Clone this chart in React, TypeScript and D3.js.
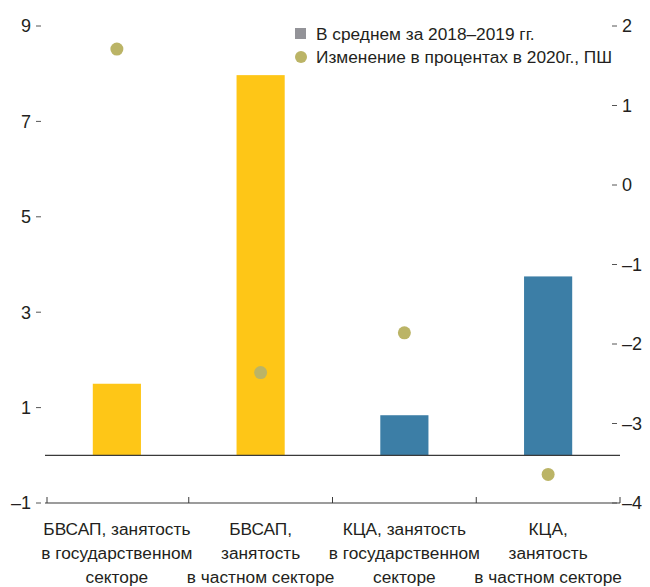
import React from "react";
import * as d3 from "d3";

const categories = [
  ["БВСАП, занятость", "в государственном", "секторе"],
  ["БВСАП,", "занятость", "в частном секторе"],
  ["КЦА, занятость", "в государственном", "секторе"],
  ["КЦА,", "занятость", "в частном секторе"],
];
const barValues = [1.5, 7.97, 0.84, 3.75];
const barColors = ["#FEC617", "#FEC617", "#3C7EA6", "#3C7EA6"];
const dotValues = [1.71, -2.36, -1.86, -3.64];
const leftTicks = [9, 7, 5, 3, 1, -1];
const rightTicks = [2, 1, 0, -1, -2, -3, -4];
const legendLabels = ["В среднем за 2018–2019 гг.", "Изменение в процентах в 2020г., ПШ"];

const W = 650, H = 587;
const FONT = "'Liberation Sans', Arial, sans-serif";
const fmt = (v: number) => (v < 0 ? "–" + Math.abs(v) : String(v));

export default function App() {
  const x = d3.scaleBand<number>().domain(d3.range(4)).range([45, 620]).paddingInner(0).paddingOuter(0);
  const yL = d3.scaleLinear().domain([-1, 9]).range([503, 26]);
  const yR = d3.scaleLinear().domain([-4, 2]).range([503, 26]);
  const bw = x.bandwidth() * 0.335;
  const textColor = "#231f20";
  const fs = 17.3;
  const boundaries = d3.range(5).map((i) => (i < 4 ? (x(i) as number) : 620));
  return (
    <svg width={W} height={H} style={{ position: "absolute", left: 0, top: 0, background: "#fff" }} fontFamily={FONT}>
      {barValues.map((v, i) => (
        <rect key={i} x={(x(i) as number) + x.bandwidth() / 2 - bw / 2} y={yL(v)} width={bw} height={yL(0) - yL(v)} fill={barColors[i]} />
      ))}
      <line x1={45} x2={620} y1={yL(0)} y2={yL(0)} stroke="#3a3a3a" strokeWidth={1.2} />
      <line x1={45} x2={620} y1={yL(-1)} y2={yL(-1)} stroke="#3a3a3a" strokeWidth={1.2} />
      {boundaries.map((b, i) => (
        <line key={i} x1={b + (i === 0 ? 2 : 0)} x2={b + (i === 0 ? 2 : 0)} y1={yL(-1)} y2={yL(-1) - 6} stroke="#3a3a3a" strokeWidth={1} />
      ))}
      {dotValues.map((v, i) => (
        <circle key={i} cx={(x(i) as number) + x.bandwidth() / 2} cy={yR(v)} r={6.5} fill="#BBB466" />
      ))}
      {leftTicks.map((t) => (
        <g key={t}>
          <text x={31} y={yL(t)} dy="0.36em" textAnchor="end" fontSize={18} fill={textColor}>{fmt(t)}</text>
          <line x1={36} x2={41} y1={yL(t)} y2={yL(t)} stroke="#555" strokeWidth={1} />
        </g>
      ))}
      {rightTicks.map((t) => (
        <g key={t}>
          <line x1={612} x2={617} y1={yR(t)} y2={yR(t)} stroke="#555" strokeWidth={1} />
          <text x={622} y={yR(t)} dy="0.36em" textAnchor="start" fontSize={18} fill={textColor}>{fmt(t)}</text>
        </g>
      ))}
      {categories.map((lines, i) => (
        <text key={i} x={(x(i) as number) + x.bandwidth() / 2} y={535} textAnchor="middle" fontSize={fs} fill={textColor}>
          {lines.map((l, j) => (
            <tspan key={j} x={(x(i) as number) + x.bandwidth() / 2} dy={j === 0 ? 0 : 24}>{l}</tspan>
          ))}
        </text>
      ))}
      <rect x={295} y={28} width={11} height={11} fill="#939398" />
      <text x={316} y={40} fontSize={fs} fill={textColor}>{legendLabels[0]}</text>
      <circle cx={301} cy={57} r={6} fill="#BBB466" />
      <text x={316} y={63} fontSize={fs} fill={textColor}>{legendLabels[1]}</text>
    </svg>
  );
}
